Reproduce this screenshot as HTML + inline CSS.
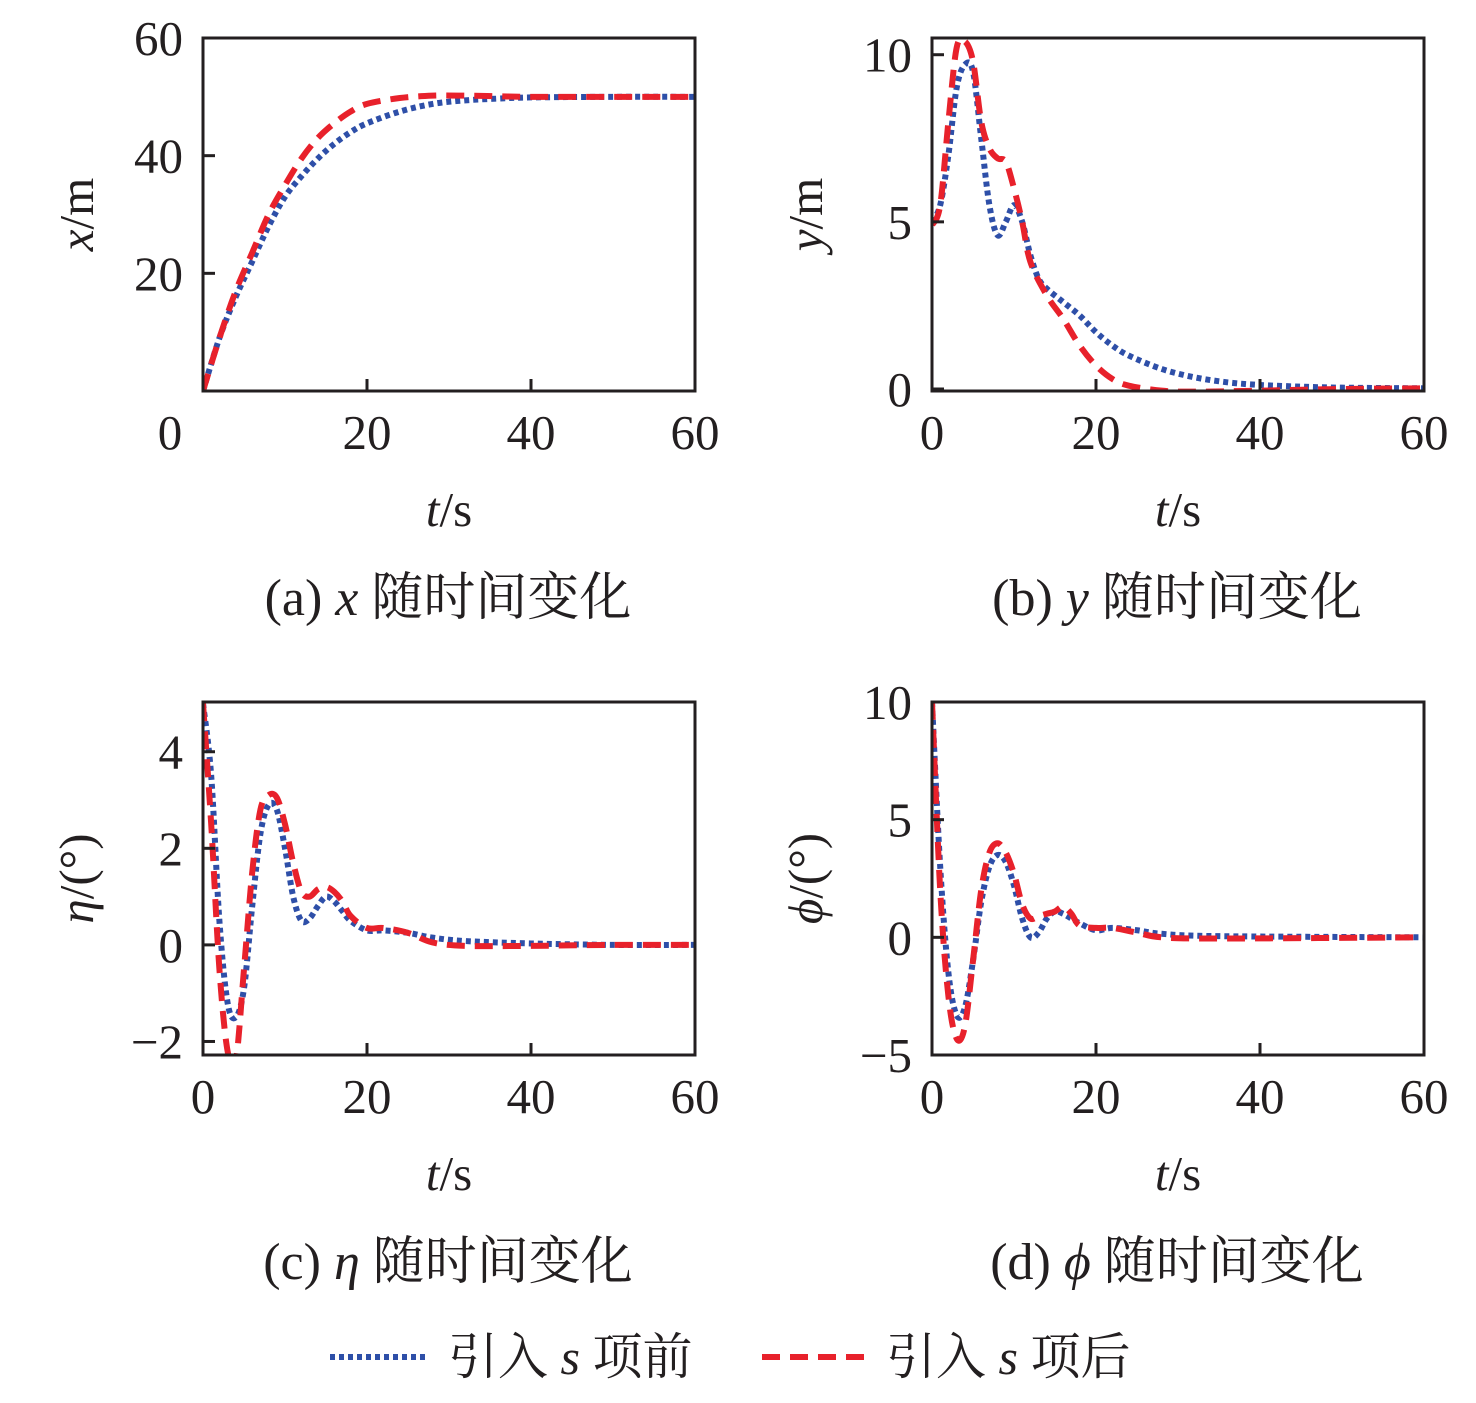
<!DOCTYPE html>
<html><head><meta charset="utf-8">
<style>
body{margin:0;background:#fff;}
svg text{font-family:"Liberation Serif","Noto Serif CJK SC",serif;fill:#231f20;}
</style></head>
<body>
<svg id="fig" width="1476" height="1398" viewBox="0 0 1476 1398" xmlns="http://www.w3.org/2000/svg">
<defs></defs>
</svg>
<script>
// time samples
const tA = [0,2,4,6,8,10,12,14,16,18,20,24,28,32,36,40,50,60];
const xBefore = [0,9,16,22,28,33,36.5,39.5,42,44,45.5,47.5,48.8,49.4,49.7,49.9,50,50];
const xAfter  = [0,9,17,23.5,30,35,39.5,43,45.5,47.5,48.8,49.8,50.2,50.2,50.1,50,50,50];

const tB = [0,1,2,3,4,5,6,7,8,9,10,11,12,13,14,16,18,20,22,24,28,32,36,40,45,50,60];
const yBefore = [5,5.5,7,9,9.7,9.5,7.5,5.5,4.6,5,5.5,5,4,3.3,3,2.6,2.2,1.7,1.3,1.0,0.6,0.35,0.2,0.12,0.07,0.04,0.02];
const tB2 = [0,1,2,3,4,5,6,7,8,9,10,11,12,14,16,18,20,22,24,28,32,40,50,60];
const yAfter  = [4.9,5.5,8,10.2,10.4,9.8,8,7.2,6.9,6.8,6,5,3.8,2.8,2.1,1.3,0.7,0.3,0.1,-0.05,-0.08,-0.05,0,0.02];

const tC = [0,1,2,3,4,5,6,7,8,9,10,11,12,13,14,15,16,17,18,20,22,25,28,32,40,50,60];
const etaBefore = [5,3.5,0.5,-1.2,-1.5,-0.9,0.8,2.3,2.9,2.8,2,1,0.5,0.55,0.8,1.0,0.9,0.7,0.5,0.3,0.3,0.25,0.15,0.08,0.03,0,0];
const etaAfter  = [5,2.5,-0.5,-2.2,-2.4,-0.5,1.5,2.8,3.1,3.05,2.5,1.7,1.1,1.0,1.15,1.2,1.1,0.9,0.6,0.35,0.35,0.25,0.05,-0.02,-0.02,0,0];

const tD = [0,1,2,3,4,5,6,7,8,9,10,11,12,13,14,15,16,17,18,20,22,25,28,35,60];
const phiBefore = [10,3,-1.5,-3.3,-3,-1,1.5,3,3.5,3.2,2.2,0.8,0,0.2,0.8,1.1,1.0,0.8,0.6,0.3,0.4,0.3,0.15,0.05,0];
const phiAfter  = [10,2,-2.5,-4.3,-3.8,-1,2,3.6,4,3.6,2.7,1.4,0.8,0.9,1.0,1.1,1.3,1.0,0.5,0.4,0.4,0.2,0,-0.05,0];

const xTicks = [0,20,40,60];
const ticksA = [20,40,60];
const ticksB = [0,5,10];
const ticksC = [-2,0,2,4];
const ticksD = [-5,0,5,10];

const FONT='"Liberation Serif", "Noto Serif CJK SC", serif';
const NS="http://www.w3.org/2000/svg";
const svg=document.getElementById('fig');
function mk(tag,attrs,parent){const e=document.createElementNS(NS,tag);for(const k in attrs)e.setAttribute(k,attrs[k]);(parent||svg).appendChild(e);return e;}
function txt(s,x,y,size,anchor,parent){const t=mk('text',{x:x,y:y,'font-size':size,'text-anchor':anchor||'middle','font-family':FONT},parent);t.innerHTML=s;return t;}

function smooth(pts){
  let d='M'+pts[0][0]+','+pts[0][1];
  for(let i=0;i<pts.length-1;i++){
    const p0=pts[i-1]||pts[i],p1=pts[i],p2=pts[i+1],p3=pts[i+2]||p2;
    const c1=[p1[0]+(p2[0]-p0[0])/6,p1[1]+(p2[1]-p0[1])/6];
    const c2=[p2[0]-(p3[0]-p1[0])/6,p2[1]-(p3[1]-p1[1])/6];
    d+=' C'+c1[0]+','+c1[1]+' '+c2[0]+','+c2[1]+' '+p2[0]+','+p2[1];
  }
  return d;
}

function panel(o){
  const g=mk('g',{});
  
  
  const X=v=>o.x0+(v-0)/60*(o.x1-o.x0);
  const Y=v=>o.y1-(v-o.ymin)/(o.ymax-o.ymin)*(o.y1-o.y0);
  const cid='clip-'+o.name;
  const cp=mk('clipPath',{id:cid},svg.querySelector('defs'));
  mk('rect',{x:o.x0,y:o.y0-4,width:o.x1-o.x0+4,height:o.y1-o.y0+4},cp);
  const sb=mk('path',{d:smooth(o.tb.map((t,i)=>[X(t),Y(o.before[i])])),fill:'none',stroke:'#2e4fa8','stroke-width':6,'stroke-dasharray':'5 4','clip-path':'url(#'+cid+')'},g);
  
  
  const sa=mk('path',{d:smooth(o.ta.map((t,i)=>[X(t),Y(o.after[i])])),fill:'none',stroke:'#e8212b','stroke-width':6,'stroke-dasharray':'18 10','clip-path':'url(#'+cid+')'},g);
  
  
  const fr=mk('rect',{x:o.x0,y:o.y0,width:o.x1-o.x0,height:o.y1-o.y0,fill:'none',stroke:'#231f20','stroke-width':3},g);
  
  
  xTicks.forEach(v=>{
    mk('line',{x1:X(v),x2:X(v),y1:o.y1,y2:o.y1-12,stroke:'#231f20','stroke-width':3},g);
    const lx=(v===0&&o.shift0)?X(v)-33:X(v);
    const t=txt(String(v),lx,o.y1+58,49,'middle',g);
    
    
  });
  o.yt.forEach(v=>{
    mk('line',{x1:o.x0,x2:o.x0+12,y1:Y(v),y2:Y(v),stroke:'#231f20','stroke-width':3},g);
    const t=txt(String(v).replace('-','\u2212'),o.x0-20,Y(v)+17,49,'end',g);
    
    
  });
  const xt=txt('<tspan font-style="italic">t</tspan>/s',(o.x0+o.x1)/2,o.y1+135,49,'middle',g);
  
  
  const yt=mk('text',{x:0,y:0,'font-size':49,'text-anchor':'middle','font-family':FONT,transform:'translate('+(o.x0-110)+','+((o.y0+o.y1)/2)+') rotate(-90)'},g);
  yt.innerHTML=o.ylab;
  
  
  const cap=txt(o.cap,(o.x0+o.x1)/2-1,o.y1+224,52,'middle',g);
  
  
}

panel({name:'panel-a',x0:203,x1:695,y0:38,y1:391,ymin:0,ymax:60,yt:ticksA,tb:tA,ta:tA,before:xBefore,after:xAfter,shift0:true,
  ylab:'<tspan font-style="italic">x</tspan>/m',cap:'(a) <tspan font-style="italic">x</tspan> 随时间变化'});
panel({name:'panel-b',x0:932,x1:1424,y0:38,y1:391,ymin:-0.06,ymax:10.5,yt:ticksB,tb:tB,ta:tB2,before:yBefore,after:yAfter,
  ylab:'<tspan font-style="italic">y</tspan>/m',cap:'(b) <tspan font-style="italic">y</tspan> 随时间变化'});
panel({name:'panel-c',x0:203,x1:695,y0:702,y1:1055,ymin:-2.28,ymax:5.03,yt:ticksC,tb:tC,ta:tC,before:etaBefore,after:etaAfter,
  ylab:'<tspan font-style="italic">η</tspan>/(°)',cap:'(c) <tspan font-style="italic">η</tspan> 随时间变化'});
panel({name:'panel-d',x0:932,x1:1424,y0:702,y1:1055,ymin:-5,ymax:10,yt:ticksD,tb:tD,ta:tD,before:phiBefore,after:phiAfter,
  ylab:'<tspan font-style="italic">ϕ</tspan>/(°)',cap:'(d) <tspan font-style="italic">ϕ</tspan> 随时间变化'});

const lg=mk('g',{});


const l1=mk('line',{x1:330,x2:428,y1:1357,y2:1357,stroke:'#2e4fa8','stroke-width':6,'stroke-dasharray':'5 4'},lg);


const t1=txt('引入 <tspan font-style="italic">s</tspan> 项前',448,1374,50,'start',lg);


const l2=mk('line',{x1:762,x2:866,y1:1357,y2:1357,stroke:'#e8212b','stroke-width':6,'stroke-dasharray':'18 10'},lg);


const t2=txt('引入 <tspan font-style="italic">s</tspan> 项后',886,1374,50,'start',lg);


</script>
</body></html>
